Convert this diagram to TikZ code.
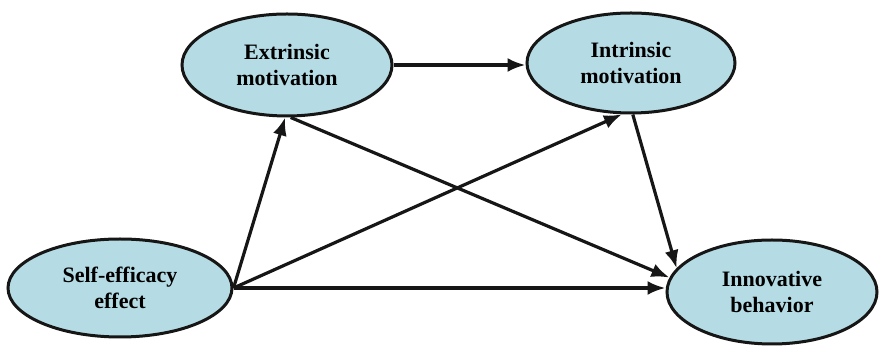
\documentclass[tikz,border=0pt]{standalone}
\usepackage{fontspec}
\setmainfont{Liberation Serif}
\usepackage{tikz}
\usetikzlibrary{arrows.meta,shapes.geometric}
\definecolor{smink}  {HTML}{161616}
\definecolor{smsky}  {HTML}{B5DCE4}
\tikzset{
  smnode/.style={ellipse, draw=smink, fill=smsky, line width=3pt, inner sep=0pt,
                 align=center, font=\fontsize{22}{26}\selectfont\bfseries},
  smedge/.style={-{Latex[length=18pt,width=14pt]}, draw=smink, line width=3.2pt},
}

\begin{document}
\begin{tikzpicture}[x=1pt,y=1pt]
  \useasboundingbox (0,0) rectangle (879,350);
  \node[smnode, minimum width=210pt, minimum height=102pt] (ext) at (287,285) {Extrinsic\\motivation};
  \node[smnode, minimum width=208pt, minimum height=100pt] (int) at (631,287) {Intrinsic\\motivation};
  \node[smnode, minimum width=224pt, minimum height=98pt]  (self) at (120,62) {Self-efficacy\\effect};
  \node[smnode, minimum width=210pt, minimum height=104pt] (inno) at (772,58) {Innovative\\behavior};

  \draw[smedge] (ext.east) -- (int.west |- ext.east);
  \draw[smedge] (self.east) -- (ext.-92);
  \draw[smedge] (self.east) -- (int.-100);
  \draw[smedge] (self.east) -- (inno.west |- self.east);
  \draw[smedge] (ext.-86) -- (inno.172);
  \draw[smedge] (int.-88) -- (inno.166);
\end{tikzpicture}
\end{document}
